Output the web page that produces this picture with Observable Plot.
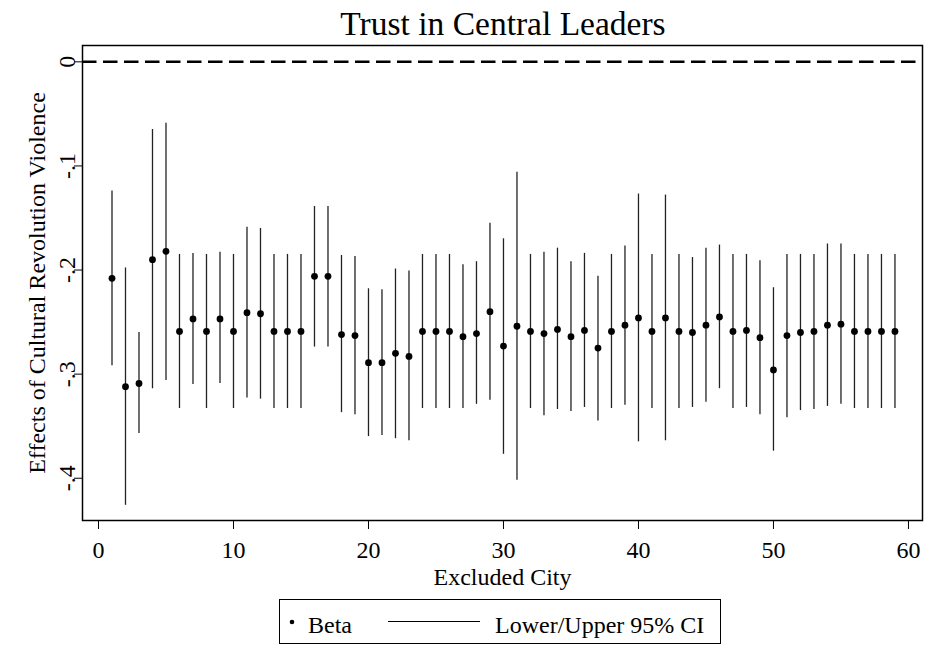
<!DOCTYPE html>
<html>
<head>
<meta charset="utf-8">
<script src="https://cdn.jsdelivr.net/npm/d3@7"></script>
<script src="https://cdn.jsdelivr.net/npm/@observablehq/plot@0.6"></script>
<style>
  html, body { margin: 0; padding: 0; background: #fff; }
  #wrap { position: relative; width: 926px; height: 645px; overflow: hidden; background: #fff;
          font-family: "Liberation Serif", "Times New Roman", "DejaVu Serif", serif; }
  #chart { position: absolute; left: 0; top: 45px; }
  #overlay { position: absolute; left: 0; top: 0; }
</style>
</head>
<body>
<div id="wrap">
  <div id="chart"></div>
  <svg id="overlay" width="926" height="645"></svg>
</div>
<script>
// ---- data ----
const title = "Trust in Central Leaders";
const xTitle = "Excluded City";
const yTitle = "Effects of Cultural Revolution Violence";
const legendLabels = ["Beta", "Lower/Upper 95% CI"];

const city = [1,2,3,4,5,6,7,8,9,10,11,12,13,14,15,16,17,18,19,20,
              21,22,23,24,25,26,27,28,29,30,31,32,33,34,35,36,37,38,39,40,
              41,42,43,44,45,46,47,48,49,50,51,52,53,54,55,56,57,58,59];
const beta = [-0.208,-0.312,-0.309,-0.190,-0.182,-0.259,-0.247,-0.259,-0.247,-0.259,
              -0.241,-0.242,-0.259,-0.259,-0.259,-0.206,-0.206,-0.262,-0.263,-0.289,
              -0.289,-0.280,-0.283,-0.259,-0.259,-0.259,-0.264,-0.261,-0.240,-0.273,
              -0.254,-0.259,-0.261,-0.257,-0.264,-0.258,-0.275,-0.259,-0.253,-0.246,
              -0.259,-0.246,-0.259,-0.260,-0.253,-0.245,-0.259,-0.258,-0.265,-0.296,
              -0.263,-0.260,-0.259,-0.253,-0.252,-0.259,-0.259,-0.259,-0.259];
const upper = [-0.124,-0.198,-0.260,-0.065,-0.059,-0.185,-0.184,-0.185,-0.183,-0.185,
               -0.159,-0.160,-0.185,-0.185,-0.185,-0.139,-0.139,-0.186,-0.187,-0.218,
               -0.219,-0.199,-0.201,-0.185,-0.185,-0.185,-0.195,-0.192,-0.155,-0.170,
               -0.106,-0.185,-0.183,-0.179,-0.192,-0.184,-0.206,-0.185,-0.177,-0.127,
               -0.185,-0.128,-0.185,-0.188,-0.179,-0.176,-0.185,-0.185,-0.191,-0.217,
               -0.185,-0.185,-0.185,-0.175,-0.175,-0.185,-0.185,-0.185,-0.185];
const lower = [-0.292,-0.426,-0.357,-0.314,-0.306,-0.333,-0.310,-0.333,-0.309,-0.333,
               -0.323,-0.324,-0.333,-0.333,-0.333,-0.274,-0.274,-0.337,-0.339,-0.360,
               -0.359,-0.362,-0.364,-0.333,-0.333,-0.333,-0.333,-0.329,-0.325,-0.377,
               -0.402,-0.333,-0.340,-0.334,-0.336,-0.332,-0.345,-0.333,-0.330,-0.365,
               -0.333,-0.364,-0.333,-0.332,-0.327,-0.314,-0.333,-0.332,-0.339,-0.374,
               -0.342,-0.335,-0.334,-0.331,-0.329,-0.333,-0.333,-0.333,-0.333];
const xTicks = [0, 10, 20, 30, 40, 50, 60];
const yTicks = [0, -0.1, -0.2, -0.3, -0.4];
const yTickLabels = ["0", "-.1", "-.2", "-.3", "-.4"];
const refLine = [0];

// ---- build ----
const rows = city.map((c, i) => ({city: c, beta: beta[i], lower: lower[i], upper: upper[i]}));
const yTickRows = yTicks.map((v, i) => ({v, label: yTickLabels[i]}));
const FONT = '"Liberation Serif", "Times New Roman", "DejaVu Serif", serif';

const chart = Plot.plot({
  width: 926,
  height: 545,
  marginLeft: 82,
  marginRight: 4,
  marginTop: 0,
  marginBottom: 70,
  style: {fontFamily: FONT, fontSize: "24px", color: "black", background: "white", overflow: "visible"},
  x: {domain: [-1.185, 61.04], ticks: xTicks, tickSize: 9, tickPadding: 11, label: null},
  y: {domain: [-0.4406, 0.0157], ticks: yTicks, tickSize: 8, tickFormat: () => "", label: null},
  marks: [
    Plot.ruleY(refLine, {stroke: "black", strokeWidth: 2.5, strokeDasharray: "14.5,6.5"}),
    Plot.ruleX(rows, {x: "city", y1: "lower", y2: "upper", stroke: "#222", strokeWidth: 1.3}),
    Plot.dot(rows, {x: "city", y: "beta", r: 3.4, fill: "black", stroke: "none"}),
    Plot.text(yTickRows, {y: "v", text: "label", frameAnchor: "left", dx: -8, rotate: -90,
                          lineAnchor: "bottom", textAnchor: "middle", fontSize: 24, fill: "black"}),
    Plot.text([yTitle], {text: d => d, frameAnchor: "left", dx: -45, rotate: -90,
                         lineAnchor: "middle", textAnchor: "middle", fontSize: 24, fill: "black"}),
    Plot.text([xTitle], {text: d => d, frameAnchor: "bottom", dy: 64, lineAnchor: "bottom",
                         textAnchor: "middle", fontSize: 24, fill: "black"}),
    Plot.frame({stroke: "black", strokeWidth: 1.5})
  ]
});
document.getElementById("chart").appendChild(chart);

// ---- title & legend overlay ----
const ov = d3.select("#overlay").style("font-family", FONT);
ov.append("text").attr("x", 503).attr("y", 35).attr("text-anchor", "middle")
  .attr("font-size", 33.5).attr("fill", "black").text(title);
const lg = ov.append("g");
lg.append("rect").attr("x", 279.5).attr("y", 599.5).attr("width", 441).attr("height", 44)
  .attr("fill", "white").attr("stroke", "black").attr("stroke-width", 1);
lg.append("circle").attr("cx", 292).attr("cy", 622).attr("r", 2.3).attr("fill", "black");
lg.append("text").attr("x", 308).attr("y", 633).attr("font-size", 24).attr("fill", "black").text(legendLabels[0]);
lg.append("line").attr("x1", 388).attr("x2", 480).attr("y1", 621.5).attr("y2", 621.5)
  .attr("stroke", "black").attr("stroke-width", 1);
lg.append("text").attr("x", 495).attr("y", 633).attr("font-size", 24).attr("fill", "black").text(legendLabels[1]);
</script>
</body>
</html>
